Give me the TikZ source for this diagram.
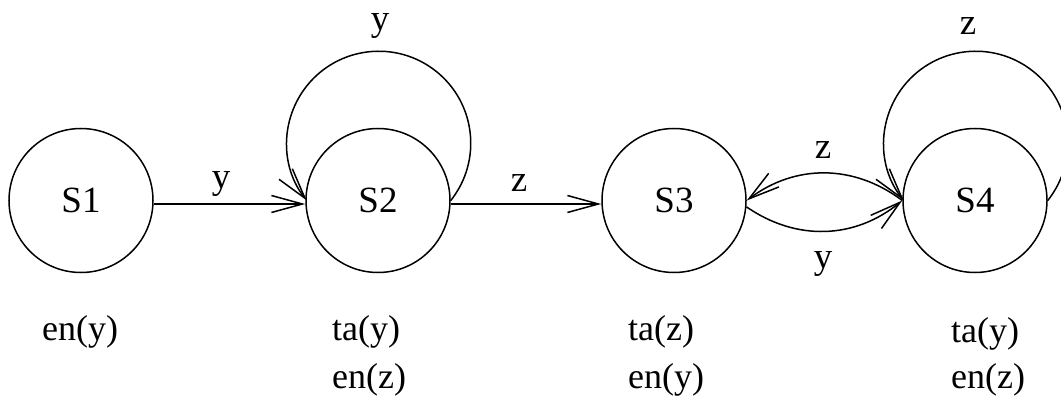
\documentclass[tikz,border=0pt]{standalone}
\usepackage{fontspec}
\setmainfont{Liberation Serif}
\usetikzlibrary{arrows.meta}
\begin{document}
\begin{tikzpicture}[x=1pt,y=1pt,
  state/.style={circle,draw,line width=1.5pt,minimum size=144pt,inner sep=0pt,font=\fontsize{37}{44}\selectfont},
  lbl/.style={font=\fontsize{37}{44}\selectfont,inner sep=0pt},
  note/.style={font=\fontsize{36}{44}\selectfont,inner sep=0pt,anchor=base west},
  arr/.style={line width=1.5pt,-{Straight Barb[length=31pt,width=17pt,line width=1.5pt]}}]
\useasboundingbox (0,0) rectangle (1061,405);
\node[state] (S1) at (81,204.5) {S1};
\node[state] (S2) at (378,204.5) {S2};
\node[state] (S3) at (674,204.5) {S3};
\node[state] (S4) at (975,204.5) {S4};
% edges
\draw[arr] ([yshift=-3.5pt]S1.east) -- ([yshift=-3.5pt]S2.west);
\draw[arr] ([yshift=-3.5pt]S2.east) -- ([yshift=-3.5pt]S3.west);
\draw[arr] (S2.east) arc[start angle=-38.5, end angle=218.5, radius=92];
\draw[arr] (S4.east) arc[start angle=-38.5, end angle=218.5, radius=92];
\draw[arr] (S4.west) to[bend right=37] (S3.east);
\draw[arr] (S3.-5) to[bend right=37] (S4.west);
% edge labels
\node[lbl] (l12) at (221,220.5) {y};
\node[lbl] (l23) at (519,221.5) {z};
\node[lbl] (l22) at (380,378.5) {y};
\node[lbl] (l44) at (968,378.5) {z};
\node[lbl] (l43) at (823,254.5) {z};
\node[lbl] (l34) at (823,140.5) {y};
% notes
\node[note] (n1a) at (42,65) {en(y)};
\node[note] (n2a) at (332,65) {ta(y)};
\node[note] (n2b) at (332,17) {en(z)};
\node[note] (n3a) at (628,65) {ta(z)};
\node[note] (n3b) at (628,17) {en(y)};
\node[note] (n4a) at (951,63) {ta(y)};
\node[note] (n4b) at (951,17) {en(z)};
\end{tikzpicture}
\end{document}
